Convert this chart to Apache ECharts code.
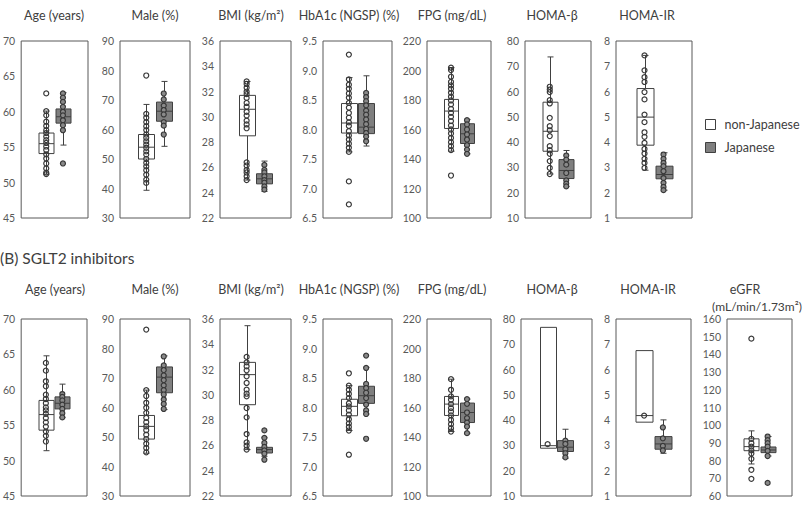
<!DOCTYPE html>
<html><head><meta charset="utf-8">
<script src="https://cdn.jsdelivr.net/npm/echarts@6/dist/echarts.min.js"></script>
<style>html,body{margin:0;padding:0;background:#fff}#c{width:808px;height:508px}</style>
</head><body><div id="c"></div>
<script>
// ---------- DATA ----------
const groups = ['non-Japanese', 'Japanese'];
const xCats = ['', 'non-Japanese', 'Japanese', ' '];
const sectionB = '(B) SGLT2 inhibitors';

const titlesTop = ['Age (years)', 'Male (%)', 'BMI (kg/m²)', 'HbA1c (NGSP) (%)', 'FPG (mg/dL)', 'HOMA-β', 'HOMA-IR'];
const titlesBottom = ['Age (years)', 'Male (%)', 'BMI (kg/m²)', 'HbA1c (NGSP) (%)', 'FPG (mg/dL)', 'HOMA-β', 'HOMA-IR', 'eGFR'];
const egfrUnit = '(mL/min/1.73m²)';

// y-axis ticks: [min, max, step, decimals]
const axisAge = [45, 70, 5, 0];
const axisMale = [30, 90, 10, 0];
const axisBMI = [22, 36, 2, 0];
const axisHbA1c = [6.5, 9.5, 0.5, 1];
const axisFPG = [100, 220, 20, 0];
const axisHomaB = [10, 80, 10, 0];
const axisHomaIR = [1, 8, 1, 0];
const axisEGFR = [60, 160, 10, 0];

// box stats: [min, Q1, median, Q3, max]
// ---- Top row (A) ----
const ageA_non_box = [51.2, 54.1, 55.5, 57.0, 60.1];
const ageA_non_pts = [62.6, 60.1, 59.5, 58.6, 58.0, 57.4, 57.0, 56.5, 56.0, 55.6, 55.1, 54.6, 54.0, 53.4, 52.7, 52.0, 51.4, 51.2];
const ageA_jp_box = [55.3, 58.4, 59.3, 60.4, 62.7];
const ageA_jp_pts = [62.6, 62.0, 61.4, 60.7, 60.0, 59.5, 58.8, 58.1, 57.4, 52.7];

const maleA_non_box = [39.4, 50.0, 54.0, 58.3, 68.5];
const maleA_non_pts = [78.3, 65.3, 64.0, 62.5, 61.1, 59.8, 58.3, 57.2, 56.0, 54.9, 53.8, 52.6, 51.5, 50.0, 48.7, 47.5, 46.2, 44.7, 43.0, 41.9];
const maleA_jp_box = [54.3, 62.8, 66.2, 69.3, 76.3];
const maleA_jp_pts = [72.2, 70.2, 68.1, 66.6, 65.1, 62.5, 61.3, 58.3];

const bmiA_non_box = [25.0, 28.5, 30.6, 31.7, 32.8];
const bmiA_non_pts = [32.8, 32.6, 32.3, 32.0, 31.8, 31.5, 31.1, 30.8, 30.4, 30.1, 29.7, 29.4, 29.1, 26.4, 26.15, 25.8, 25.6, 25.3, 25.0];
const bmiA_jp_box = [24.1, 24.7, 25.1, 25.5, 26.5];
const bmiA_jp_pts = [26.2, 25.8, 25.6, 25.3, 25.0, 24.8, 24.5, 24.25];

const hbaA_non_box = [7.62, 7.94, 8.11, 8.44, 8.88];
const hbaA_non_pts = [9.27, 8.85, 8.76, 8.69, 8.61, 8.54, 8.45, 8.37, 8.28, 8.2, 8.12, 8.06, 7.97, 7.9, 7.83, 7.76, 7.69, 7.62, 7.12, 6.73];
const hbaA_jp_box = [7.72, 7.93, 8.04, 8.44, 8.91];
const hbaA_jp_pts = [8.62, 8.55, 8.48, 8.41, 8.32, 8.25, 8.17, 8.09, 8.01, 7.94, 7.88, 7.8];

const fpgA_non_box = [145.3, 160.7, 172.5, 180.4, 201.9];
const fpgA_non_pts = [201.9, 200.3, 195.8, 192.2, 189.9, 187.6, 184.9, 182.2, 179.7, 177, 174, 171.3, 168.6, 165.7, 162.7, 160, 157.3, 154.3, 151.4, 148.7, 146, 128.8];
const fpgA_jp_box = [143.5, 150.5, 157.1, 163.9, 166.8];
const fpgA_jp_pts = [166.3, 163.4, 160, 156.6, 153.2, 149.4, 146.4, 143.5];

const hbA_non_box = [27.4, 36.4, 44.3, 55.8, 73.7];
const hbA_non_pts = [61.9, 60.8, 59.8, 56.6, 55.3, 49.6, 46.3, 44.7, 42.4, 38.4, 36.8, 35.4, 32.5, 29.8, 27.4];
const hbA_jp_box = [22.5, 25.6, 28.8, 33.1, 36.7];
const hbA_jp_pts = [34.7, 33.1, 31.1, 27.8, 24.9, 23.6, 22.5];

const irA_non_box = [2.89, 3.88, 4.99, 6.12, 7.43];
const irA_non_pts = [7.43, 6.84, 6.57, 6.38, 5.98, 5.69, 5.09, 4.79, 4.39, 4.21, 3.97, 3.73, 3.55, 3.34, 3.18, 2.98];
const irA_jp_box = [2.1, 2.55, 2.72, 3.05, 3.58];
const irA_jp_pts = [3.51, 3.34, 3.18, 3.05, 2.85, 2.58, 2.39, 2.23, 2.1];

// ---- Bottom row (B) ----
const ageB_non_box = [51.4, 54.3, 56.5, 58.5, 64.8];
const ageB_non_pts = [63.8, 62.7, 61.2, 60.5, 59.3, 58.7, 58.1, 57.5, 57.1, 56.6, 56.0, 55.4, 54.8, 54.1, 53.5, 52.7];
const ageB_jp_box = [56.1, 57.3, 58.1, 59.0, 60.8];
const ageB_jp_pts = [59.4, 59.0, 58.5, 57.9, 57.3, 56.7, 56.1];

const maleB_non_box = [44.5, 49.3, 53.6, 57.3, 65.9];
const maleB_non_pts = [86.4, 65.9, 63.9, 61.6, 59.9, 58.2, 56.5, 55.0, 53.6, 52.3, 50.8, 49.3, 47.7, 46.3, 44.8];
const maleB_jp_box = [59.3, 65.0, 70.3, 73.75, 77.5];
const maleB_jp_pts = [77.3, 74.3, 72.7, 70.9, 69.3, 67.5, 65.9, 64.4, 62.7, 61.2, 59.5];

const bmiB_non_box = [25.67, 29.22, 31.6, 32.57, 35.47];
const bmiB_non_pts = [33.0, 32.57, 32.26, 31.94, 31.47, 30.94, 30.41, 30.09, 29.88, 28.96, 28.22, 26.9, 26.24, 25.98, 25.67];
const bmiB_jp_box = [25.14, 25.4, 25.67, 25.85, 26.6];
const bmiB_jp_pts = [27.19, 26.6, 26.2, 25.88, 25.61, 25.35, 24.87];

const hbaB_non_box = [7.61, 7.86, 8.02, 8.14, 8.37];
const hbaB_non_pts = [8.58, 8.37, 8.3, 8.23, 8.16, 8.07, 8.02, 7.95, 7.88, 7.8, 7.73, 7.67, 7.61, 7.2];
const hbaB_jp_box = [7.89, 8.07, 8.2, 8.36, 8.68];
const hbaB_jp_pts = [8.88, 8.67, 8.4, 8.33, 8.25, 8.16, 8.05, 7.95, 7.89, 7.47];

const fpgB_non_box = [143.7, 154.6, 162.3, 167.5, 179.2];
const fpgB_non_pts = [179.2, 172, 167.5, 165.2, 162.3, 159.6, 157.3, 154.6, 151.6, 148.7, 146, 143.7];
const fpgB_jp_box = [142.6, 149.8, 156.6, 163, 165.7];
const fpgB_jp_pts = [165.7, 162.5, 156.6, 152.8, 149.8, 147.1, 142.6];

const hbB_non_box = [28.9, 28.9, 29.9, 76.7, 76.7];
const hbB_non_pts = [30.5];
const hbB_jp_box = [24.9, 27.6, 29.3, 31.9, 36.4];
const hbB_jp_pts = [31.9, 30.6, 28.5, 26.9, 25.3];

const irB_non_box = [3.92, 3.92, 4.18, 6.75, 6.75];
const irB_non_pts = [4.18];
const irB_jp_box = [2.69, 2.85, 3.06, 3.35, 4.01];
const irB_jp_pts = [3.71, 3.28, 2.98, 2.8];

const egfrB_non_box = [78.1, 85.6, 87.9, 92.3, 96.8];
const egfrB_non_pts = [148.9, 92.3, 89.8, 87.9, 85.8, 84.0, 81.0, 74.8, 69.7];
const egfrB_jp_box = [82.6, 84.5, 86, 87.7, 93.6];
const egfrB_jp_pts = [93.6, 91.5, 89.8, 87.9, 85.5, 82.6, 67.4];

// ---------- PANELS ----------
const panels = [
  [titlesTop[0], axisAge, ageA_non_box, ageA_non_pts, ageA_jp_box, ageA_jp_pts],
  [titlesTop[1], axisMale, maleA_non_box, maleA_non_pts, maleA_jp_box, maleA_jp_pts],
  [titlesTop[2], axisBMI, bmiA_non_box, bmiA_non_pts, bmiA_jp_box, bmiA_jp_pts],
  [titlesTop[3], axisHbA1c, hbaA_non_box, hbaA_non_pts, hbaA_jp_box, hbaA_jp_pts],
  [titlesTop[4], axisFPG, fpgA_non_box, fpgA_non_pts, fpgA_jp_box, fpgA_jp_pts],
  [titlesTop[5], axisHomaB, hbA_non_box, hbA_non_pts, hbA_jp_box, hbA_jp_pts],
  [titlesTop[6], axisHomaIR, irA_non_box, irA_non_pts, irA_jp_box, irA_jp_pts],
  [titlesBottom[0], axisAge, ageB_non_box, ageB_non_pts, ageB_jp_box, ageB_jp_pts],
  [titlesBottom[1], axisMale, maleB_non_box, maleB_non_pts, maleB_jp_box, maleB_jp_pts],
  [titlesBottom[2], axisBMI, bmiB_non_box, bmiB_non_pts, bmiB_jp_box, bmiB_jp_pts],
  [titlesBottom[3], axisHbA1c, hbaB_non_box, hbaB_non_pts, hbaB_jp_box, hbaB_jp_pts],
  [titlesBottom[4], axisFPG, fpgB_non_box, fpgB_non_pts, fpgB_jp_box, fpgB_jp_pts],
  [titlesBottom[5], axisHomaB, hbB_non_box, hbB_non_pts, hbB_jp_box, hbB_jp_pts],
  [titlesBottom[6], axisHomaIR, irB_non_box, irB_non_pts, irB_jp_box, irB_jp_pts],
  [titlesBottom[7], axisEGFR, egfrB_non_box, egfrB_non_pts, egfrB_jp_box, egfrB_jp_pts]
];

// ---------- LAYOUT (styling only) ----------
const layoutLeft  = [18, 120, 220, 323, 427, 525, 616,   17, 120, 220, 323, 427, 521, 616, 727];
const layoutWidth = [70, 70, 71, 69, 64, 66, 76,          70, 70, 71, 69, 64, 71, 75, 65];
const layoutTop   = [41, 41, 41, 41, 41, 41, 41,          319, 319, 319, 319, 319, 319, 319, 319];
const layoutTitleX = [54, 155, 251, 349, 452, 552, 647,   55, 155, 251, 349, 452, 552, 648, 745];
const layoutTitleY = [15, 15, 15, 15, 15, 15, 15,         289, 289, 289, 289, 289, 289, 289, 289];
const panelH = 177;
const FONT = 'Lato, "Open Sans", sans-serif';
const INK = '#404040';
const FILLS = ['#ffffff', '#7f7f7f'];
const DOT_FILLS = ['rgba(255,255,255,0)', '#8a8a8a'];

function renderBox(params, api) {
  const x = api.value(0);
  const pMin = api.coord([x, api.value(1)]);
  const pQ1 = api.coord([x, api.value(2)]);
  const pMed = api.coord([x, api.value(3)]);
  const pQ3 = api.coord([x, api.value(4)]);
  const pMax = api.coord([x, api.value(5)]);
  const bw = Math.round(api.size([1, 0])[0] * 0.9);
  const cx = Math.round(pQ1[0]) + 0.5;
  const st = { stroke: INK, lineWidth: 1, fill: null };
  const ch = [];
  if (pMax[1] < pQ3[1] - 0.5) {
    ch.push({ type: 'line', shape: { x1: cx, y1: pQ3[1], x2: cx, y2: pMax[1] }, style: st });
    ch.push({ type: 'line', shape: { x1: cx - 3, y1: pMax[1], x2: cx + 3, y2: pMax[1] }, style: st });
  }
  if (pMin[1] > pQ1[1] + 0.5) {
    ch.push({ type: 'line', shape: { x1: cx, y1: pQ1[1], x2: cx, y2: pMin[1] }, style: st });
    ch.push({ type: 'line', shape: { x1: cx - 3, y1: pMin[1], x2: cx + 3, y2: pMin[1] }, style: st });
  }
  ch.push({ type: 'rect', shape: { x: cx - bw / 2, y: pQ3[1], width: bw, height: pQ1[1] - pQ3[1] },
            style: { fill: api.visual('color'), stroke: INK, lineWidth: 1 } });
  ch.push({ type: 'line', shape: { x1: cx - bw / 2, y1: pMed[1], x2: cx + bw / 2, y2: pMed[1] }, style: st });
  return { type: 'group', children: ch };
}

const grid = [], xAxis = [], yAxis = [], series = [], graphic = [];
panels.forEach((p, i) => {
  const [title, ax, nb, np, jb, jp] = p;
  grid.push({ left: layoutLeft[i], top: layoutTop[i], width: layoutWidth[i], height: panelH,
              show: true, borderColor: '#595959', borderWidth: 1, backgroundColor: 'transparent' });
  xAxis.push({ gridIndex: i, type: 'category', data: xCats, boundaryGap: true, show: false });
  yAxis.push({ gridIndex: i, type: 'value', min: ax[0], max: ax[1], interval: ax[2],
    axisLine: { show: false }, axisTick: { show: false }, splitLine: { show: false },
    axisLabel: { color: '#595959', fontSize: 10.5, fontFamily: FONT, margin: 6,
      formatter: v => v.toFixed(ax[3]) } });
  [[nb, np], [jb, jp]].forEach((g, gi) => {
    const cat = xCats.indexOf(groups[gi]);
    series.push({ type: 'custom', name: groups[gi], xAxisIndex: i, yAxisIndex: i, z: 2,
      renderItem: renderBox, itemStyle: { color: FILLS[gi] },
      encode: { x: 0, y: [1, 2, 3, 4, 5] },
      data: [[cat].concat(g[0])], silent: true });
    series.push({ type: 'scatter', name: groups[gi], xAxisIndex: i, yAxisIndex: i, z: 3,
      symbol: 'circle', symbolSize: 5,
      itemStyle: { color: DOT_FILLS[gi], borderColor: '#383838', borderWidth: 1.2, opacity: 1 },
      data: g[1].map(v => [cat, v]), silent: true });
  });
  graphic.push({ type: 'text', x: layoutTitleX[i], y: layoutTitleY[i],
    style: { text: title, font: '12.5px ' + FONT, fill: INK, textAlign: 'center', textVerticalAlign: 'middle' } });
});
graphic.push({ type: 'text', x: 757, y: 306,
  style: { text: egfrUnit, font: '12px ' + FONT, fill: INK, textAlign: 'center', textVerticalAlign: 'middle' } });
graphic.push({ type: 'text', x: 0, y: 258,
  style: { text: sectionB, font: '15.5px ' + FONT, fill: INK, textAlign: 'left', textVerticalAlign: 'middle' } });

const chart = echarts.init(document.getElementById('c'), null, { renderer: 'svg', width: 808, height: 508 });
chart.setOption({
  backgroundColor: '#fff',
  animation: false,
  grid, xAxis, yAxis, series, graphic,
  legend: {
    orient: 'vertical', left: 700, top: 113, itemWidth: 10, itemHeight: 10, itemGap: 10,
    selectedMode: false, icon: 'rect',
    textStyle: { fontFamily: FONT, fontSize: 12.5, color: INK, padding: [0, 0, 0, 4] },
    data: [
      { name: groups[0], itemStyle: { color: FILLS[0], borderColor: INK, borderWidth: 1 } },
      { name: groups[1], itemStyle: { color: FILLS[1], borderColor: INK, borderWidth: 1 } }
    ]
  }
});
</script></body></html>
